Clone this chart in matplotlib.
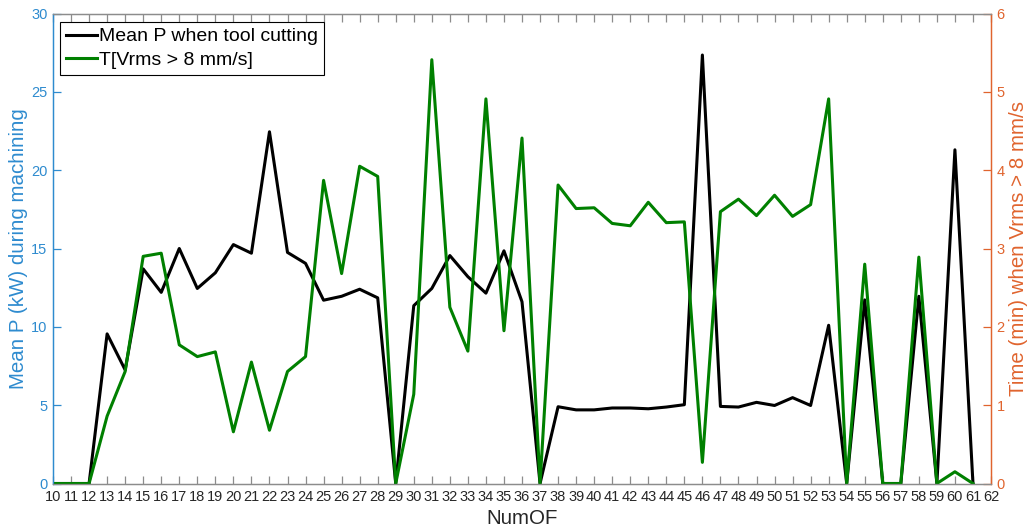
import numpy as np
import matplotlib.pyplot as plt

plt.rcParams['font.family'] = ['Liberation Sans', 'DejaVu Sans']

num_of = list(range(10, 62))

mean_p = [0, 0, 0, 9.55, 7.25, 13.7, 12.2, 15.0, 12.45, 13.45,
          15.25, 14.7, 22.45, 14.75, 14.05, 11.7, 11.95, 12.4, 11.85, 0,
          11.35, 12.45, 14.55, 13.2, 12.15, 14.85, 11.6, 0, 4.9, 4.7,
          4.7, 4.82, 4.82, 4.77, 4.88, 5.03, 27.35, 4.92, 4.88, 5.18,
          4.98, 5.48, 4.98, 10.1, 0, 11.72, 0, 0, 11.95, 0,
          21.3, 0]

t_vrms = [0, 0, 0, 0.86, 1.43, 2.9, 2.94, 1.77, 1.62, 1.68,
          0.66, 1.55, 0.68, 1.43, 1.62, 3.87, 2.68, 4.05, 3.92, 0,
          1.14, 5.41, 2.25, 1.69, 4.91, 1.95, 4.41, 0, 3.81, 3.51,
          3.52, 3.32, 3.29, 3.59, 3.33, 3.34, 0.27, 3.47, 3.63, 3.42,
          3.68, 3.41, 3.56, 4.91, 0, 2.8, 0, 0, 2.89, 0,
          0.15, 0]

blue = '#2E8BCF'
orange = '#E0642E'
grey = '#8C8C8C'

fig = plt.figure(figsize=(10.29, 5.32), dpi=100)
ax = fig.add_axes([53/1029, 1 - 483.5/532, 938/1029, 470/532])
ax2 = ax.twinx()

l1, = ax.plot(num_of, mean_p, color='black', lw=2.2, label='Mean P when tool cutting')
l2, = ax2.plot(num_of, t_vrms, color='#008000', lw=2.2, label='T[Vrms > 8 mm/s]')

ax.set_xlim(10, 62)
ax.set_ylim(0, 30)
ax2.set_ylim(0, 6)
ax.set_xticks(range(10, 63))
ax.set_yticks(range(0, 31, 5))
ax2.set_yticks(range(0, 7))

ax.tick_params(axis='x', direction='in', top=True, length=6, width=0.9,
               color=grey, labelsize=10.5, pad=5, labelcolor='#262626')
ax.tick_params(axis='y', direction='in', length=6, width=0.9, color=blue,
               labelcolor=blue, labelsize=10.5, pad=4)
ax2.tick_params(axis='y', direction='in', length=6, width=0.9, color=orange,
                labelcolor=orange, labelsize=10.5, pad=4)

for a in (ax, ax2):
    a.spines['top'].set_color(grey)
    a.spines['bottom'].set_color(grey)
    a.spines['left'].set_color(blue)
    a.spines['right'].set_color(orange)
    for s in a.spines.values():
        s.set_linewidth(0.9)

ax.set_xlabel('NumOF', fontsize=14.8, color='#262626', labelpad=3)
ax.set_ylabel('Mean P (kW) during machining', fontsize=14.8, color=blue, labelpad=2)
ax2.set_ylabel('Time (min) when Vrms > 8 mm/s', fontsize=14.8, color=orange, labelpad=3)

leg = ax2.legend(handles=[l1, l2], loc='upper left', fontsize=14,
                 bbox_to_anchor=(60/1029, 1 - 22/532), bbox_transform=fig.transFigure,
                 frameon=True, fancybox=False, handlelength=1.6,
                 handletextpad=0.1, borderpad=0.3, labelspacing=0.3,
                 borderaxespad=0)
leg.get_frame().set_edgecolor('black')
leg.get_frame().set_linewidth(0.8)
leg.get_frame().set_alpha(1)

fig.savefig('out.png', dpi=100)
